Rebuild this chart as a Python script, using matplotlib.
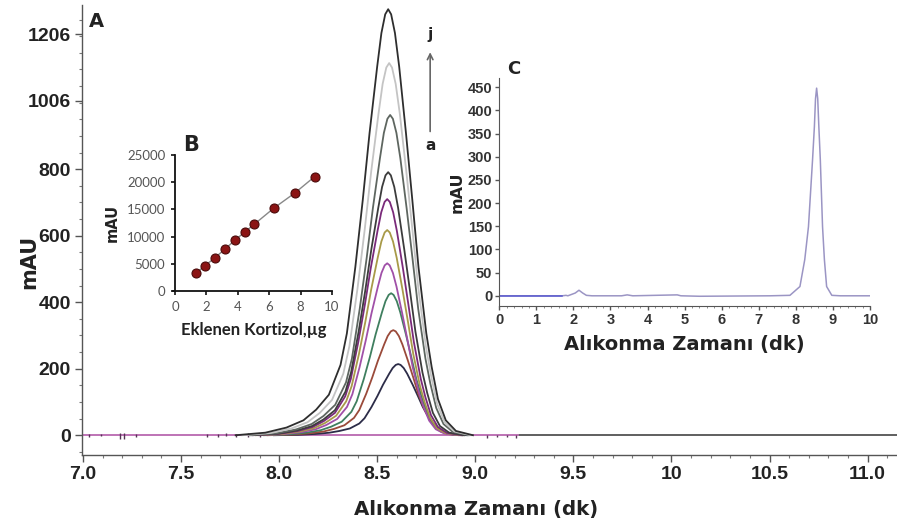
"""
HPLC chromatogram figure: overlay of cortisol peaks (A), calibration inset (B), sample trace inset (C).
"""
import matplotlib

matplotlib.use("Agg")
import matplotlib.pyplot as plt  # noqa: E402
from matplotlib.ticker import MultipleLocator  # noqa: E402

# --- panel A: peaks a..j ---
peak_names = ["a", "b", "c", "d", "e", "f", "g", "h", "i", "j"]
peak_height = [214, 316, 427, 517, 617, 710, 791, 963, 1119, 1281]
peak_center = [8.607, 8.582, 8.571, 8.551, 8.551, 8.551, 8.556, 8.566, 8.561, 8.556]
peak_width = [0.88, 0.89, 0.90, 0.91, 0.93, 0.95, 0.97, 1.00, 1.04, 1.08]
peak_color = ["#2c2c48", "#9a4a3a", "#3f7f5f", "#a050a8", "#a89a48",
              "#7a2a7a", "#3c3c3c", "#5e6660", "#c4c4c4", "#2e2e2e"]

# shape of the tallest peak (j), offset from apex in min vs. fraction of height
profile_dx = [-0.72, -0.58, -0.48, -0.40, -0.34, -0.28, -0.225, -0.195, -0.155, -0.120,
              -0.088, -0.052, -0.032, -0.014, 0.0, 0.014, 0.032, 0.052, 0.084, 0.114,
              0.143, 0.180, 0.205, 0.235, 0.272, 0.320, 0.40]
profile_rel = [0.0, 0.006, 0.018, 0.035, 0.06, 0.095, 0.165, 0.239, 0.395, 0.552,
               0.709, 0.865, 0.944, 0.988, 1.0, 0.988, 0.944, 0.865, 0.709, 0.552,
               0.395, 0.239, 0.161, 0.085, 0.035, 0.010, 0.0]

main_xticks = [7.0, 7.5, 8.0, 8.5, 9.0, 9.5, 10.0, 10.5, 11.0]
main_xlabels = ["7.0", "7.5", "8.0", "8.5", "9.0", "9.5", "10", "10.5", "11.0"]
main_yticks = [0, 200, 400, 600, 800, 1006, 1206]

noise_t = [7.03, 7.09, 7.19, 7.21, 7.27, 7.63, 7.69, 7.73, 7.78, 7.84, 7.90, 9.06, 9.11, 9.16, 9.21]
noise_lo = [-4, -3, -12, -10, -5, -4, -5, -3, -4, -6, -4, -7, -6, -6, -7]
noise_hi = [5, 4, 8, 6, 3, 3, 4, 6, 5, 7, 6, 2, 2, 2, 2]

# --- panel B: calibration ---
cal_x = [1.32, 1.91, 2.55, 3.19, 3.83, 4.47, 5.04, 6.28, 7.66, 8.89]
cal_y = [3250, 4650, 6130, 7720, 9380, 10900, 12250, 15200, 18080, 21020]

# --- panel C: sample chromatogram ---
c_t = [0.0, 1.7, 1.8, 1.85, 2.05, 2.15, 2.25, 2.35, 2.5, 3.3, 3.45, 3.6, 4.8, 4.9, 5.4,
       7.3, 7.84, 8.11, 8.24, 8.34, 8.45, 8.50, 8.53, 8.56, 8.59, 8.62, 8.66, 8.72, 8.77,
       8.83, 8.97, 9.2, 10.0]
c_v = [0.0, 0.0, 1.0, 0.0, 6.0, 12.0, 6.0, 1.0, 0.0, 0.0, 2.0, 0.0, 2.0, 0.0, -1.0,
       0.0, 1.0, 20.0, 78.0, 149.0, 293.0, 365.0, 425.0, 448.0, 425.0, 365.0, 293.0, 149.0, 78.0,
       20.0, 1.0, 0.0, 0.0]

TICKFONT = ["Liberation Sans", "DejaVu Sans"]

fig = plt.figure(figsize=(8.97, 5.22), dpi=100)

# ---------------- A ----------------
ax = fig.add_axes([0.0914, 0.128, 0.9086, 0.862])
ax.plot([7.0, 11.15], [0, 0], color="#444444", lw=1.2, zorder=1)
ax.plot([7.0, 9.22], [0, 0], color="#d27ac8", lw=1.2, zorder=2)
ax.vlines(noise_t, noise_lo, noise_hi, color="#553355", lw=1.0, zorder=2)
for name, h, c, w, col in zip(peak_names, peak_height, peak_center, peak_width, peak_color):
    xs = [c + d * w for d in profile_dx]
    ys = [h * r for r in profile_rel]
    ax.plot(xs, ys, color=col, lw=1.3, zorder=3)

ax.set_xlim(6.995, 11.15)
ax.set_ylim(-60, 1293)
ax.set_xticks(main_xticks)
ax.set_xticklabels(main_xlabels, fontweight="bold", family=TICKFONT)
ax.set_yticks(main_yticks)
ax.set_yticklabels([str(v) for v in main_yticks], fontweight="bold", family=TICKFONT)
ax.xaxis.set_minor_locator(MultipleLocator(0.1))
ax.yaxis.set_minor_locator(MultipleLocator(50))
for s in ["top", "right"]:
    ax.spines[s].set_visible(False)
for s in ["left", "bottom"]:
    ax.spines[s].set_color("#555555")
    ax.spines[s].set_linewidth(1.0)
ax.tick_params(which="major", length=5, width=1, color="#555555", labelcolor="#222222", labelsize=14, pad=3)
ax.tick_params(which="minor", length=2.5, width=0.8, color="#777777")
ax.set_xlabel("Alıkonma Zamanı (dk)", fontsize=14.2, fontweight="bold", color="#222222", labelpad=12)
ax.xaxis.label.set_x(0.483)
ax.set_ylabel("mAU", fontsize=15, fontweight="bold", color="#222222")
ax.yaxis.set_label_coords(-0.052, 0.43)
ax.text(0.008, 0.985, "A", transform=ax.transAxes, fontsize=14, fontweight="bold", va="top", ha="left", color="#222222")

ax.annotate("", xy=(8.77, 1160), xytext=(8.77, 905),
            arrowprops=dict(arrowstyle="->", color="#666666", lw=1.2))
ax.text(8.77, 870, "a", ha="center", va="center", fontsize=11, fontweight="bold", color="#222222")
ax.text(8.77, 1205, "j", ha="center", va="center", fontsize=11, fontweight="bold", color="#222222")

# ---------------- B ----------------
axb = fig.add_axes([0.1951, 0.4425, 0.175, 0.2605])
axb.plot(cal_x, cal_y, color="#888888", lw=1.0, zorder=2)
axb.scatter(cal_x, cal_y, s=42, color="#8b1414", edgecolors="#4a0a0a", linewidths=0.8, zorder=3)
axb.set_xlim(0, 10)
axb.set_ylim(0, 25000)
axb.set_xticks([0, 2, 4, 6, 8, 10])
axb.set_yticks([0, 5000, 10000, 15000, 20000, 25000])
axb.patch.set_alpha(0)
for s in ["top", "right"]:
    axb.spines[s].set_visible(False)
for s in ["left", "bottom"]:
    axb.spines[s].set_color("#111111")
    axb.spines[s].set_linewidth(1.3)
axb.spines["bottom"].set_bounds(-0.15, 10)
axb.tick_params(length=3, width=1.2, color="#111111", labelcolor="#555555", labelsize=9.5, pad=4,
                labelfontfamily="Lato")
axb.set_xlabel("Eklenen Kortizol,µg", fontsize=12, fontweight="bold", family=["Lato", "DejaVu Sans"],
               color="#222222", labelpad=7)
axb.set_ylabel("mAU", fontsize=10.5, fontweight="bold", color="#222222", labelpad=5)
axb.text(0.05, 1.0, "B", transform=axb.transAxes, fontsize=15, fontweight="bold", va="bottom", color="#222222")

# ---------------- C ----------------
axc = fig.add_axes([0.5566, 0.4138, 0.4133, 0.436])
axc.plot(c_t, c_v, color="#9b95c4", lw=1.1)
axc.plot([0, 1.7], [0, 0], color="#5a5ad0", lw=1.1)
axc.set_xlim(0, 10)
axc.set_ylim(-22, 469)
axc.set_xticks(range(0, 11))
axc.set_yticks(range(0, 451, 50))
axc.xaxis.set_minor_locator(MultipleLocator(0.2))
axc.patch.set_alpha(0)
for s in ["top", "right"]:
    axc.spines[s].set_visible(False)
for s in ["left", "bottom"]:
    axc.spines[s].set_color("#555555")
axc.tick_params(which="major", length=3, width=1, color="#555555", labelcolor="#333333", labelsize=10.5, pad=2,
                labelfontfamily="Liberation Sans")
axc.tick_params(which="minor", length=1.5, color="#777777")
for lab in axc.get_xticklabels() + axc.get_yticklabels():
    lab.set_fontweight("bold")
axc.set_xlabel("Alıkonma Zamanı (dk)", fontsize=14, fontweight="bold", color="#222222", labelpad=6)
axc.set_ylabel("mAU", fontsize=11.5, fontweight="bold", color="#222222", labelpad=2)
axc.text(0.02, 1.0, "C", transform=axc.transAxes, fontsize=13, fontweight="bold", va="bottom", color="#222222")

fig.savefig("out.png", dpi=100)
